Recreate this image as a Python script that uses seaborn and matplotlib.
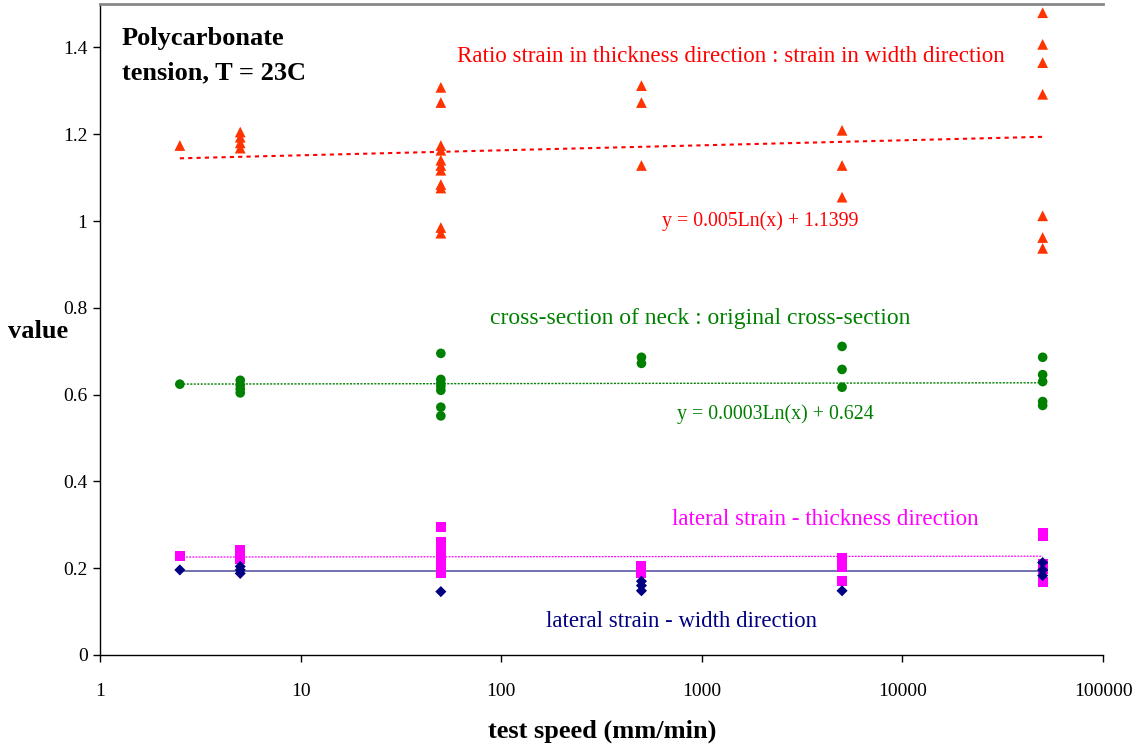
import numpy as np
import pandas as pd
import matplotlib
matplotlib.use("Agg")
import matplotlib.pyplot as plt
import seaborn as sns
from matplotlib.ticker import FixedLocator, FuncFormatter

sns.set_style("white")
plt.rcParams['font.family'] = ['Liberation Serif', 'DejaVu Serif']
plt.rcParams['text.color'] = 'black'
plt.rcParams['axes.labelcolor'] = 'black'
plt.rcParams['xtick.color'] = 'black'
plt.rcParams['ytick.color'] = 'black'

# test speeds (mm/min)
speeds = [2.5, 5, 50, 500, 5000, 50000]

# measured values, one inner list per speed
ratio = [[1.174],
         [1.205, 1.193, 1.18, 1.168],
         [1.308, 1.273, 1.174, 1.163, 1.14, 1.128, 1.117, 1.084, 1.076, 0.985, 0.972],
         [1.312, 1.273, 1.128],
         [1.209, 1.128, 1.055],
         [1.48, 1.407, 1.365, 1.292, 1.012, 0.962, 0.937]]
neck = [[0.624],
        [0.633, 0.622, 0.613, 0.604],
        [0.695, 0.635, 0.626, 0.619, 0.61, 0.571, 0.551],
        [0.686, 0.672],
        [0.711, 0.658, 0.617],
        [0.686, 0.646, 0.63, 0.584, 0.575]]
thick = [[0.228],
         [0.243, 0.236, 0.229, 0.222],
         [0.294, 0.26, 0.237, 0.228, 0.22, 0.21, 0.2, 0.19],
         [0.206, 0.2, 0.19],
         [0.224, 0.212, 0.202, 0.17],
         [0.281, 0.274, 0.21, 0.204, 0.198, 0.168]]
width = [[0.196],
         [0.204, 0.196, 0.188],
         [0.146],
         [0.17, 0.16, 0.148],
         [0.148],
         [0.213, 0.196, 0.183]]

series_names = ["ratio", "neck", "thick", "width"]
series_vals = [ratio, neck, thick, width]
colors = {"ratio": "#ff3300", "neck": "#008000", "thick": "#ff00ff", "width": "#000080"}
markers = {"ratio": "^", "neck": "o", "thick": "s", "width": "D"}

# log trendlines y = a*ln(x) + b
trend_a = [0.005, 0.0003, 0.0002, 0.0]
trend_b = [1.1399, 0.624, 0.2255, 0.194]

rows = []
for name, vals in zip(series_names, series_vals):
    for s, group in zip(speeds, vals):
        for v in group:
            rows.append({"speed": s, "value": v, "series": name})
df = pd.DataFrame(rows)

fig = plt.figure(figsize=(11.34, 7.46), dpi=100)
ax = fig.add_axes([0.0882, 0.122, 0.8845, 0.8726])

# trend lines
xs = np.logspace(np.log10(speeds[0]), np.log10(speeds[-1]), 200)
trend_styles = {"ratio": dict(ls=(0, (2, 2)), lw=1.5, color="#ff0000"),
                "neck": dict(ls=(0, (1.5, 1)), lw=1.0, color="#008000"),
                "thick": dict(ls=(0, (1.5, 1)), lw=0.9, color="#ff00ff"),
                "width": dict(ls="-", lw=1.3, color="#6666aa")}
for name, a, b in zip(series_names, trend_a, trend_b):
    tdf = pd.DataFrame({"speed": xs, "value": a * np.log(xs) + b})
    st = trend_styles[name]
    sns.lineplot(data=tdf, x="speed", y="value", ax=ax, color=st["color"],
                 linestyle=st["ls"], linewidth=st["lw"], zorder=1)

sizes = {"ratio": 60, "neck": 48, "thick": 52, "width": 32}
for name in series_names:
    sns.scatterplot(data=df[df.series == name], x="speed", y="value", ax=ax,
                    color=colors[name], marker=markers[name], s=sizes[name],
                    edgecolor="none", linewidth=0, zorder=3, legend=False)

ax.set_xscale("log")
ax.set_xlim(1, 100000)
ax.set_ylim(0, 1.5)
ax.xaxis.set_major_locator(FixedLocator([1, 10, 100, 1000, 10000, 100000]))
ax.xaxis.set_minor_locator(FixedLocator([]))
ax.xaxis.set_major_formatter(FuncFormatter(lambda v, p: f"{int(v)}"))
ax.yaxis.set_major_locator(FixedLocator([0, 0.2, 0.4, 0.6, 0.8, 1.0, 1.2, 1.4]))
ax.yaxis.set_major_formatter(FuncFormatter(lambda v, p: f"{v:g}"))
ax.tick_params(axis="both", direction="out", length=5, width=1, color="#000000",
               labelsize=14, bottom=True, left=True)
ax.tick_params(axis="x", pad=15)
ax.tick_params(axis="y", pad=4)

for side in ["left", "bottom"]:
    ax.spines[side].set_color("#000000")
    ax.spines[side].set_linewidth(1)
ax.spines["right"].set_visible(False)
ax.spines["top"].set_color("#888888")
ax.spines["top"].set_linewidth(2)

ax.set_xlabel("test speed (mm/min)", fontsize=19, fontweight="bold",
              ha="center", va="center")
ax.xaxis.set_label_coords(0.5005, -0.1167)
ax.set_ylabel("value", fontsize=19, fontweight="bold", rotation=0,
              ha="center", va="center")
ax.yaxis.set_label_coords(-0.0618, 0.497)

ax.text(1.287, 1.381, "Polycarbonate\ntension, T = 23C", fontsize=19, fontweight="bold",
        ha="left", va="center", linespacing=1.58)
ax.text(1399, 1.379, "Ratio strain in thickness direction : strain in width direction",
        color="#ff0000", fontsize=16.6, ha="center", va="center")
ax.text(1950, 0.999, "y = 0.005Ln(x) + 1.1399", color="#ff0000", fontsize=14.3,
        ha="center", va="center")
ax.text(979, 0.775, "cross-section of neck : original cross-section",
        color="#008000", fontsize=17, ha="center", va="center")
ax.text(2317, 0.555, "y = 0.0003Ln(x) + 0.624", color="#008000", fontsize=14.3,
        ha="center", va="center")
ax.text(4112, 0.313, "lateral strain - thickness direction", color="#ff00ff",
        fontsize=16.6, ha="center", va="center")
ax.text(788, 0.078, "lateral strain - width direction", color="#000080",
        fontsize=16.4, ha="center", va="center")

fig.savefig("out.png", dpi=100)
